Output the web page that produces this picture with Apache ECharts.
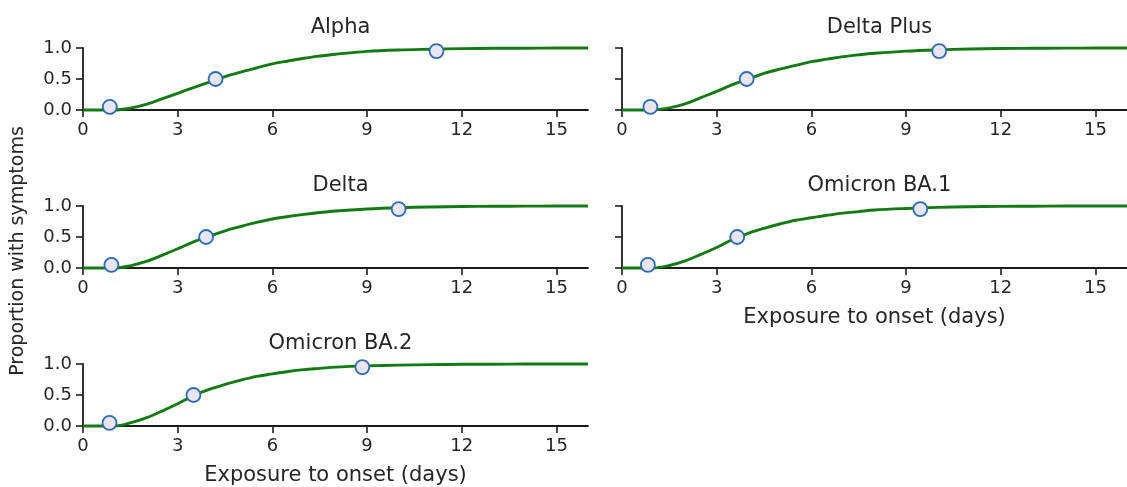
<!DOCTYPE html>
<html>
<head>
<meta charset="utf-8">
<script src="https://cdn.jsdelivr.net/npm/echarts@6/dist/echarts.min.js"></script>
<style>html,body{margin:0;padding:0;background:#fff}#c{width:1127px;height:487px}</style>
</head>
<body>
<div id="c"></div>
<script>
// ---- data ----
const variants = ["Alpha", "Delta Plus", "Delta", "Omicron BA.1", "Omicron BA.2"];
const days = [0,0.5,1,1.5,2,2.5,3,3.5,4,4.5,5,5.5,6,6.5,7,7.5,8,9,10,11,12,13,14,15,16];
const alphaCdf     = [0,0,0,0.03,0.09,0.18,0.27,0.36,0.45,0.54,0.61,0.68,0.745,0.79,0.835,0.87,0.90,0.945,0.968,0.98,0.99,0.995,0.997,0.999,1.0];
const deltaPlusCdf = [0,0,0,0.035,0.10,0.20,0.30,0.41,0.50,0.59,0.66,0.72,0.78,0.82,0.86,0.89,0.915,0.95,0.97,0.983,0.991,0.995,0.998,0.999,1.0];
const deltaCdf     = [0,0,0,0.035,0.105,0.205,0.31,0.42,0.51,0.60,0.67,0.735,0.79,0.83,0.865,0.895,0.92,0.952,0.972,0.984,0.991,0.995,0.998,0.999,1.0];
const ba1Cdf       = [0,0,0,0.04,0.115,0.22,0.33,0.46,0.56,0.64,0.71,0.77,0.81,0.85,0.885,0.91,0.935,0.96,0.978,0.988,0.994,0.997,0.999,1.0,1.0];
const ba2Cdf       = [0,0,0,0.05,0.13,0.24,0.36,0.49,0.59,0.67,0.74,0.80,0.84,0.88,0.91,0.93,0.95,0.97,0.982,0.99,0.995,0.997,0.999,1.0,1.0];
const quantileLevels = [0.05, 0.5, 0.95];
const alphaQ     = [0.85, 4.2, 11.2];
const deltaPlusQ = [0.9, 3.95, 10.05];
const deltaQ     = [0.9, 3.9, 10.0];
const ba1Q       = [0.82, 3.65, 9.45];
const ba2Q       = [0.84, 3.5, 8.85];
const xTicks = [0, 3, 6, 9, 12, 15];
const xName = "Exposure to onset (days)";
const yName = "Proportion with symptoms";

const curves = [alphaCdf, deltaPlusCdf, deltaCdf, ba1Cdf, ba2Cdf];
const quants = [alphaQ, deltaPlusQ, deltaQ, ba1Q, ba2Q];

// ---- layout ----
const FONT = "DejaVu Sans";
const TXT = "#262626";
const AX = "#1c1c1c";
const panels = [
  {left: 83, bottom: 377, showY: true,  showXName: false},
  {left: 622, bottom: 377, showY: false, showXName: false},
  {left: 83, bottom: 219, showY: true,  showXName: false},
  {left: 622, bottom: 219, showY: false, showXName: true},
  {left: 83, bottom: 61,  showY: true,  showXName: true}
];
const W = 505, H = 62;

const grid = [], xAxis = [], yAxis = [], series = [], title = [];
panels.forEach((p, i) => {
  const top = 487 - p.bottom - H;
  grid.push({left: p.left, top: top, width: W, height: H, containLabel: false});
  title.push({
    text: variants[i], left: p.left + W / 2, top: top - 36, textAlign: 'center',
    textStyle: {fontFamily: FONT, fontSize: 21, fontWeight: 'normal', color: TXT}
  });
  xAxis.push({
    type: 'value', gridIndex: i, min: 0, max: 16,
    name: p.showXName ? xName : '', nameLocation: 'middle', nameGap: 39,
    nameTextStyle: {fontFamily: FONT, fontSize: 21, color: TXT},
    axisLine: {show: true, onZero: false, lineStyle: {color: AX, width: 1.8}},
    axisTick: {show: true, length: 7, lineStyle: {color: AX, width: 1.6}, customValues: xTicks},
    axisLabel: {fontFamily: FONT, fontSize: 18, color: TXT, margin: 11, customValues: xTicks},
    splitLine: {show: false}
  });
  yAxis.push({
    type: 'value', gridIndex: i, min: 0, max: 1, interval: 0.5,
    axisLine: {show: true, lineStyle: {color: AX, width: 1.8}},
    axisTick: {show: true, length: 7, lineStyle: {color: AX, width: 1.6}},
    axisLabel: {show: p.showY, fontFamily: FONT, fontSize: 18, color: TXT, margin: 11,
      formatter: v => v.toFixed(1)},
    splitLine: {show: false}
  });
  series.push({
    type: 'line', xAxisIndex: i, yAxisIndex: i,
    data: days.map((d, k) => [d, curves[i][k]]),
    smooth: 0.35, showSymbol: false, clip: false,
    lineStyle: {color: '#137a13', width: 2.9}, z: 3
  });
  series.push({
    type: 'scatter', xAxisIndex: i, yAxisIndex: i,
    data: quants[i].map((q, k) => [q, quantileLevels[k]]),
    symbol: 'circle', symbolSize: 14, clip: false,
    itemStyle: {color: '#e8e5f1', borderColor: '#2e6bb0', borderWidth: 1.8, opacity: 1}, z: 4
  });
});

const chart = echarts.init(document.getElementById('c'), null, {renderer: 'canvas'});
chart.setOption({
  animation: false,
  backgroundColor: '#ffffff',
  title: title,
  grid: grid, xAxis: xAxis, yAxis: yAxis, series: series,
  graphic: [{
    type: 'text', x: 18, y: 251, rotation: Math.PI / 2,
    style: {text: yName, fontFamily: FONT, fontSize: 19, fill: TXT,
      align: 'center', verticalAlign: 'middle'}
  }]
});
</script>
</body>
</html>
